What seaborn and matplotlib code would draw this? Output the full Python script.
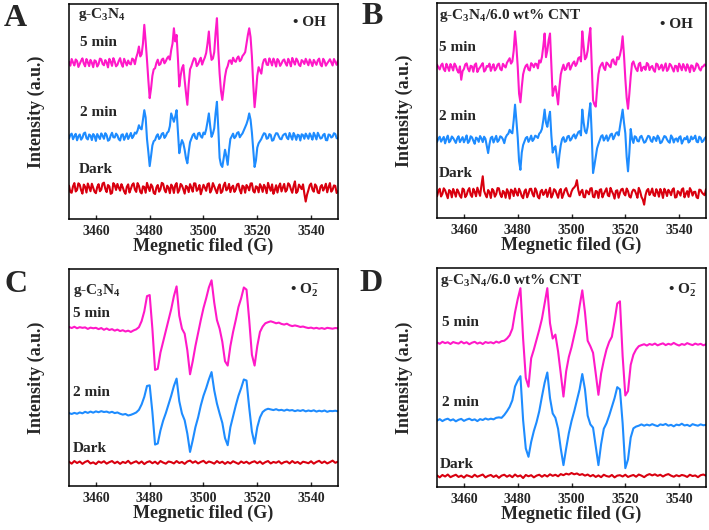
import numpy as np
import pandas as pd
import matplotlib
matplotlib.use('Agg')
import matplotlib.pyplot as plt
import seaborn as sns

# magnetic field sweep (G)
field = [3450, 3451, 3452, 3453, 3454, 3455, 3456, 3457, 3458, 3459,
         3460, 3461, 3462, 3463, 3464, 3465, 3466, 3467, 3468, 3469,
         3470, 3471, 3472, 3473, 3474, 3475, 3476, 3477, 3478, 3479,
         3480, 3481, 3482, 3483, 3484, 3485, 3486, 3487, 3488, 3489,
         3490, 3491, 3492, 3493, 3494, 3495, 3496, 3497, 3498, 3499,
         3500, 3501, 3502, 3503, 3504, 3505, 3506, 3507, 3508, 3509,
         3510, 3511, 3512, 3513, 3514, 3515, 3516, 3517, 3518, 3519,
         3520, 3521, 3522, 3523, 3524, 3525, 3526, 3527, 3528, 3529,
         3530, 3531, 3532, 3533, 3534, 3535, 3536, 3537, 3538, 3539,
         3540, 3541, 3542, 3543, 3544, 3545, 3546, 3547, 3548, 3549,
         3550]
# extra half-gauss samples for the noisy DMPO-OH spectra (A, B)
field_half = [3450.5, 3451.5, 3452.5, 3453.5, 3454.5, 3455.5, 3456.5, 3457.5, 3458.5, 3459.5,
              3460.5, 3461.5, 3462.5, 3463.5, 3464.5, 3465.5, 3466.5, 3467.5, 3468.5, 3469.5,
              3470.5, 3471.5, 3472.5, 3473.5, 3474.5, 3475.5, 3476.5, 3477.5, 3478.5, 3479.5,
              3480.5, 3481.5, 3482.5, 3483.5, 3484.5, 3485.5, 3486.5, 3487.5, 3488.5, 3489.5,
              3490.5, 3491.5, 3492.5, 3493.5, 3494.5, 3495.5, 3496.5, 3497.5, 3498.5, 3499.5,
              3500.5, 3501.5, 3502.5, 3503.5, 3504.5, 3505.5, 3506.5, 3507.5, 3508.5, 3509.5,
              3510.5, 3511.5, 3512.5, 3513.5, 3514.5, 3515.5, 3516.5, 3517.5, 3518.5, 3519.5,
              3520.5, 3521.5, 3522.5, 3523.5, 3524.5, 3525.5, 3526.5, 3527.5, 3528.5, 3529.5,
              3530.5, 3531.5, 3532.5, 3533.5, 3534.5, 3535.5, 3536.5, 3537.5, 3538.5, 3539.5,
              3540.5, 3541.5, 3542.5, 3543.5, 3544.5, 3545.5, 3546.5, 3547.5, 3548.5, 3549.5]

# ---- A: g-C3N4, DMPO-OH ----
a_5min = [0.5, 1.8, -1.2, 0.9, -0.4, 2.1, -1.6, 0.3, 1.4, -2.0,
          0.8, -0.6, 1.7, -1.1, 0.2, 1.9, -1.4, 0.6, -0.9, 2.2,
          -1.8, 0.4, 1.1, -0.7, 1.5, 2.5, 7.6, 4.0, 17.7, 1.4,
          -16.4, -6.0, -2.5, 1.5, -0.5, 2.0, 0.8, 3.0, 6.0, 16.1,
          13.0, -11.0, -2.5, -8.0, -19.5, -3.0, 0.5, 1.8, -0.6, 2.4,
          1.0, 4.6, 14.6, 1.4, 5.0, 20.8, -5.0, -17.2, -6.4, -1.5,
          1.2, 2.4, 0.5, 3.0, 1.5, 4.0, 9.0, 16.1, 3.0, -20.6,
          -6.0, -3.5, -0.5, 1.8, -1.0, 0.6, 2.0, -1.7, 0.9, -0.3,
          1.6, -1.3, 0.4, 2.3, -0.8, 1.0, -1.5, 0.7, 1.9, -1.1,
          0.2, 1.4, -0.9, 2.0, -1.6, 0.8, -0.2, 1.7, -1.2, 0.5,
          1.1]
a_5min_half = [-1.3, 0.2, 1.6, -1.9, 1.0, -0.3, 1.8, -1.5, 0.1, 1.2,
               -1.7, 2.0, -0.5, 1.3, -2.1, 0.6, 2.2, -1.6, 0.9, -0.4,
               1.9, -1.2, -0.3, 2.0, -0.6, 4.5, 3.0, 9.0, 10.0, -8.0,
               -12.0, -3.0, 0.0, -1.0, 1.5, -0.2, 2.2, 1.5, 9.0, 10.0,
               2.0, -6.0, -1.0, -14.0, -10.0, -1.5, 2.2, -1.5, 1.0, -0.8,
               2.5, 9.0, 6.0, 2.0, 14.0, 6.0, -13.0, -12.0, -3.0, 1.0,
               -0.5, 1.0, 2.2, 0.8, 3.2, 5.0, 13.0, 12.0, -10.0, -14.0,
               -2.0, -5.0, 1.5, -0.8, 2.1, -1.2, 0.5, 1.8, -1.4, 1.1,
               -0.2, 1.9, -1.6, 0.6, 2.0, -0.9, 1.3, -0.5, 0.4, 1.6,
               -1.5, 0.3, 1.2, -0.8, 1.9, -1.3, 0.7, 0.2, 1.8, -0.9]
a_2min = [-0.8, 1.5, 0.3, -1.6, 1.1, -0.4, 2.0, -1.2, 0.6, 1.3,
          -1.9, 0.2, 1.6, -0.9, 0.8, -1.4, 1.9, -0.3, 0.7, -1.7,
          1.2, 0.1, -1.0, 1.8, 0.4, 1.5, 5.4, 3.5, 12.4, -1.0,
          -13.6, -4.0, -1.5, 1.2, -0.3, 1.8, 0.4, 2.5, 10.9, 7.0,
          12.4, -7.6, -1.5, -6.0, -12.3, -2.5, 0.8, -0.5, 1.6, 0.2,
          2.0, 3.5, 10.9, 0.0, 4.0, 16.3, -9.8, -14.0, -6.0, -13.0,
          -1.0, 1.5, 0.2, 2.2, 0.8, 3.0, 6.0, 10.9, 2.0, -14.0,
          -5.0, -2.0, 0.5, 1.4, -0.6, 0.9, -1.5, 1.7, 0.2, -1.1,
          1.2, -0.4, 1.8, -1.3, 0.5, 1.0, -1.7, 0.8, 1.5, -0.9,
          0.3, 1.9, -1.2, 0.6, -0.5, 1.4, -1.6, 0.9, 0.1, 1.3,
          -0.8]
a_2min_half = [0.9, -1.1, 1.4, 0.2, -1.3, 1.6, -0.6, 1.1, -1.5, 0.4,
               1.3, -1.0, 0.5, 1.7, -1.8, 0.6, -0.2, 1.5, -1.1, 0.9,
               -1.4, 1.6, 0.3, -0.6, 2.0, 3.0, 4.0, 8.0, 9.0, -7.0,
               -9.0, -2.0, 0.3, -1.0, 1.4, -0.5, 1.9, 5.0, 9.0, 9.5,
               2.0, -4.0, -3.0, -10.0, -7.0, -0.8, 1.5, -1.0, 1.9, -0.4,
               1.2, 7.0, 5.0, 1.5, 11.0, 4.0, -13.0, -10.0, -9.0, -6.0,
               0.3, -0.6, 1.8, -0.2, 1.6, 4.5, 8.0, 8.0, -6.0, -11.0,
               -3.0, -1.0, 1.7, -0.9, 1.3, -1.8, 0.4, 1.6, -1.0, 0.6,
               1.5, -1.1, 0.2, 1.8, -1.4, 0.7, 1.2, -0.9, 0.4, 1.6,
               -1.3, 0.5, 1.9, -0.8, 0.9, -1.5, 1.1, -0.3, 1.7, -0.6]
a_dark = [1.2, -2.1, 2.4, -0.8, 1.6, -2.5, 0.7, 2.2, -1.4, 0.3,
          -2.3, 1.9, -0.6, 2.6, -1.8, 0.9, -2.2, 1.4, 2.0, -1.1,
          0.4, -2.6, 1.8, -0.3, 2.3, -1.7, 1.1, -2.4, 0.6, 2.5,
          -1.3, 0.8, -2.7, 1.5, -0.5, 2.1, -1.9, 0.2, 1.7, -2.2,
          2.4, -0.9, 1.3, -2.5, 0.5, 1.9, -1.6, 2.2, -0.4, -2.8,
          1.6, -1.2, 2.3, -0.7, 0.9, -2.3, 1.8, -1.5, 2.6, -0.2,
          -1.8, 1.2, -0.6, 2.1, -2.4, 0.7, 1.5, -1.0, 2.3, -2.0,
          0.5, 1.9, -1.7, 0.3, 2.5, -1.2, -2.6, 1.4, 0.8, -1.5,
          2.0, -0.8, 1.6, -2.1, 3.2, -1.4, 0.6, 1.8, -6.2, -0.9,
          2.2, -1.6, 0.9, -2.3, 1.5, 0.2, -1.9, 2.4, -0.7, 1.1,
          -1.4]
a_dark_half = [-1.8, 0.9, -1.5, 2.3, -0.9, 1.7, -2.0, 0.4, 2.1, -1.6,
               0.6, -1.4, 2.2, -0.3, 1.5, -2.6, 2.4, -0.8, 0.3, 1.9,
               -1.5, 0.7, -2.0, 1.6, -0.6, 2.4, -1.7, 0.9, -2.1, 0.5,
               1.8, -2.2, 0.4, -1.6, 2.5, -0.7, 1.2, -2.3, 0.6, 1.4,
               -2.1, 2.0, -0.5, 1.1, -1.8, 0.3, 2.3, -1.2, 1.5, -0.6,
               0.3, 1.9, -2.0, 2.4, -0.8, 0.5, -2.2, 1.3, -1.0, 2.0,
               0.4, -1.7, 1.8, -0.9, 1.2, -2.1, 0.5, 2.2, -1.3, 0.9,
               -1.9, 0.7, 1.6, -2.3, 0.4, 1.8, -0.9, -2.0, 2.2, 0.3,
               -1.6, 2.3, -0.5, 1.0, -2.2, 1.7, -0.4, -2.5, -3.0, 1.4,
               -0.6, 1.8, -2.0, 0.7, -1.1, 2.1, 0.5, -1.6, 1.3, -2.2]

# ---- B: g-C3N4/6.0 wt% CNT, DMPO-OH ----
b_5min = [1.5, -0.7, 2.0, -1.5, 0.4, 1.8, -1.2, 0.9, -2.2, -5.5,
          -0.5, 2.1, -1.6, 0.7, 1.4, -1.9, 0.3, 2.2, -1.0, 0.6,
          -1.4, 1.7, -0.3, 2.0, -1.1, 1.0, 2.4, 4.5, 3.0, 17.0,
          0.5, -16.0, -3.0, 1.0, -0.8, 2.2, 0.3, 1.8, 3.5, 5.0,
          16.0, 8.0, 16.0, -13.0, -8.5, -17.0, -3.0, 1.5, -0.5, 2.3,
          0.8, 3.0, 2.0, 5.0, 17.0, 4.0, 8.0, 18.6, -15.0, -18.0,
          -3.0, 1.5, 0.0, 2.5, 1.0, 3.5, 2.0, 5.0, 6.0, 14.7,
          -5.0, -19.0, -4.0, 3.0, -0.5, 1.8, -1.4, 0.6, 2.3, -1.0,
          0.9, -1.8, 1.6, 0.2, -1.3, 2.1, -0.6, 1.2, -1.7, 0.8,
          2.0, -1.1, 0.4, 1.7, -2.0, 0.9, -0.3, 1.5, -1.2, 0.7,
          1.0]
b_5min_half = [0.3, 1.2, -0.6, 1.9, -1.4, 0.5, 2.0, -1.1, 0.7, -1.5,
               1.6, -0.4, 1.0, -1.8, 2.1, -0.6, 1.3, -1.7, 0.9, 2.0,
               0.4, -1.2, 1.5, -0.5, 1.9, 0.2, 3.5, 2.0, 8.0, 10.0,
               -12.0, -9.0, -0.5, 1.6, -1.2, 1.5, 2.0, -0.2, 2.5, 10.0,
               5.0, 13.0, 2.0, -10.0, -12.0, -9.0, -0.5, -1.0, 1.8, -0.8,
               2.2, 0.9, 4.5, 3.0, 10.0, 5.0, 14.0, 2.0, -17.0, -10.0,
               0.2, 2.4, -1.0, 1.9, 0.3, 4.0, 1.5, 4.0, 9.0, 6.0,
               -14.0, -12.0, 2.0, 1.0, -1.5, 2.4, 0.1, -0.9, 1.7, 0.4,
               -1.0, 2.0, -0.7, 1.5, 0.4, -1.4, 1.9, -0.2, 1.0, -1.6,
               0.6, 1.8, -1.3, 0.3, 1.2, -1.5, 2.1, -0.4, 0.5, 1.6]
b_2min = [-1.0, 1.4, 0.2, -1.7, 1.9, -0.4, 0.8, -1.5, 1.6, 0.1,
          -1.2, 2.0, -0.7, 1.1, -1.9, 0.5, 1.7, -1.1, 0.4, -6.2,
          0.9, -1.3, 1.8, -0.2, 1.2, -1.6, 2.2, 4.6, 3.0, 16.3,
          1.0, -14.0, -2.5, 0.8, -1.0, 1.9, 0.3, 1.5, 2.8, 5.0,
          14.0, 6.0, 13.0, -6.0, -3.0, -13.0, -2.5, 1.2, -0.6, 1.8,
          0.4, 2.5, 2.0, 4.0, 14.0, 4.0, 6.0, 17.0, -15.5, -8.0,
          -2.0, 1.6, -0.4, 2.0, 0.8, 2.8, 1.5, 3.5, 6.0, 14.0,
          3.0, -14.7, 5.0, -1.5, 1.2, -0.8, 1.8, -1.4, 0.5, 1.5,
          -1.0, 0.7, 1.9, -1.6, 0.3, 1.4, -0.9, 2.0, -1.3, 0.6,
          1.1, -1.8, 0.8, 1.6, -0.7, 0.2, 1.9, -1.2, 0.9, -0.5,
          1.3]
b_2min_half = [0.5, -0.9, 1.3, 0.4, -1.2, 1.5, -0.3, 0.6, -1.1, 1.2,
               0.3, -1.5, 1.6, -0.5, 1.0, -1.0, 0.6, 1.4, -3.0, -2.0,
               1.4, 0.3, -1.0, 1.6, 0.2, 1.0, 2.8, 3.5, 9.0, 9.0,
               -10.0, -6.0, -0.8, 1.3, 0.2, -0.6, 1.9, 0.8, 3.5, 9.0,
               8.0, 10.0, 2.0, -4.0, -8.0, -7.0, 0.3, -1.0, 1.5, -0.4,
               1.8, 0.6, 3.5, 2.0, 8.0, 3.0, 12.0, 3.0, -12.0, -4.0,
               -0.2, 2.1, 0.7, -0.5, 2.4, 0.2, 3.0, 2.0, 10.0, 8.0,
               -8.0, -6.0, 0.5, 1.6, -0.6, 1.3, 0.2, -1.0, 1.8, -0.5,
               1.3, -0.6, 0.9, -1.2, 1.7, 0.1, -1.4, 1.0, 0.3, -0.9,
               1.6, -0.4, 0.2, -1.3, 1.5, 0.8, -0.9, 1.4, -1.1, 0.6]
b_dark = [-1.5, 2.0, -0.4, 1.3, -2.4, 0.8, 1.9, -1.7, 0.5, -2.2,
          1.6, -0.9, 2.3, -1.8, 0.6, 2.5, -1.3, 7.8, -0.7, 1.4,
          -2.3, 1.1, -0.5, 2.2, -1.9, 0.3, 1.8, -2.6, 1.0, 2.1,
          -1.2, 0.6, -2.4, 1.7, -0.3, 2.0, -1.6, 0.9, -2.5, 1.5,
          0.2, -1.8, 2.4, -0.8, 1.2, -2.2, 1.9, -0.6, 2.3, -1.4,
          0.7, 2.6, 6.0, -1.0, 1.5, -2.0, 0.4, 2.1, -1.7, 1.0,
          -2.3, 1.8, -0.4, 2.2, -1.5, 0.8, -2.6, 1.3, 0.1, 2.0,
          -1.1, 0.9, -2.1, 1.6, -0.3, 2.4, -1.8, -5.4, 1.2, -0.9,
          2.1, -1.4, 0.5, 1.9, -2.3, 0.7, 1.5, -1.0, 2.2, -1.9,
          0.3, 1.7, -2.0, 0.9, 2.3, -1.2, 0.6, -2.4, 1.4, -0.5,
          1.8]
b_dark_half = [0.9, -1.6, 2.2, -0.5, 1.4, -2.0, 0.3, 1.7, -1.3, 2.1,
               -1.9, 1.2, -0.8, 2.0, -1.5, 0.6, 3.5, 1.0, -2.0, 0.4,
               1.9, -1.7, 2.3, -0.6, 1.0, -2.2, 0.5, 1.6, -1.4, 0.2,
               2.0, -1.5, 0.8, -2.0, 1.9, -0.4, 2.2, -1.8, 0.7, -0.9,
               1.6, 0.4, -2.1, 1.8, -0.5, 0.9, -2.3, 1.5, 0.2, -1.6,
               2.0, 3.5, 1.5, 0.6, -1.8, 1.2, -0.6, 2.3, -2.0, 0.7,
               1.5, -2.0, 0.9, -1.1, 2.4, -0.5, 1.0, -2.2, 1.7, -0.3,
               2.1, -1.6, 0.5, 1.3, -2.2, 0.8, -3.0, -1.0, 1.9, 0.3,
               -0.9, 1.8, -1.7, 0.4, 2.0, -1.4, 0.6, 1.5, -2.1, 0.9,
               -1.2, 2.2, -0.3, -1.8, 1.1, 0.5, -2.0, 1.6, 0.2, -1.0]

# ---- C: g-C3N4, DMPO-O2- ----
c_5min = [0.8, 0.3, 0.9, 0.2, 0.7, 0.4, 0.6, -0.1, 0.5, 0.2,
          0.4, -0.2, 0.3, -0.5, 0.1, -0.6, -0.2, -0.9, -0.4, -1.1,
          -0.7, -1.3, -0.9, -1.5, -0.8, -0.3, 0.7, 3.5, 8.0, 15.0,
          15.5, 0.0, -19.0, -18.5, -11.0, -6.0, -1.0, 4.0, 9.0, 15.0,
          19.5, 6.0, 0.0, -2.3, -10.0, -21.0, -15.0, -8.0, -2.0, 4.0,
          9.5, 14.0, 19.0, 22.3, 12.0, 4.0, 0.0, -6.0, -15.0, -17.0,
          -8.0, -1.5, 4.0, 10.0, 14.0, 19.0, 18.0, 4.0, -12.0, -17.0,
          -8.0, -1.5, 1.0, 2.5, 3.0, 3.4, 3.0, 2.5, 2.8, 2.2,
          1.9, 2.3, 1.6, 1.2, 1.5, 1.2, 0.8, 1.0, 0.6, 0.3,
          0.5, 0.1, 0.4, 0.0, 0.3, -0.1, 0.4, 0.2, 0.0, 0.3,
          0.2]
c_2min = [-0.5, -0.9, -0.4, -0.8, -0.2, -0.6, 0.1, -0.4, 0.2, -0.3,
          0.3, -0.1, 0.4, 0.0, 0.2, -0.3, 0.1, -0.5, -0.2, -0.8,
          -1.2, -0.9, -1.6, -1.3, -0.8, -0.2, 1.0, 3.5, 7.0, 12.0,
          12.3, 0.0, -15.0, -14.5, -8.5, -4.0, -0.5, 3.5, 7.5, 12.0,
          15.4, 5.0, -0.7, -3.8, -10.0, -18.4, -13.0, -7.0, -2.5, 3.0,
          7.5, 11.0, 15.0, 18.4, 10.0, 3.9, -0.7, -5.0, -12.0, -15.3,
          -7.0, -2.0, 3.0, 7.5, 11.0, 15.0, 14.5, 2.0, -9.0, -14.6,
          -7.0, -2.5, 0.0, 1.0, 1.5, 1.2, 0.9, 1.3, 0.8, 1.0,
          0.6, 1.1, 0.7, 0.9, 0.4, 0.8, 0.5, 0.9, 0.3, 0.7,
          0.4, 0.8, 0.2, 0.6, 0.3, 0.7, 0.1, 0.5, 0.4, 0.6,
          0.3]
c_dark = [0.4, -0.5, 0.7, -0.2, 0.5, -0.6, 0.3, 0.8, -0.4, 0.1,
          -0.7, 0.5, -0.1, 0.6, -0.5, 0.2, 0.7, -0.3, 0.4, -0.6,
          0.3, -0.2, 0.8, -0.5, 0.1, 0.6, -0.4, 0.5, -0.7, 0.2,
          0.6, -0.3, 0.4, -0.6, 0.7, 0.0, -0.5, 0.5, 0.2, -0.4,
          0.7, -0.2, 0.3, -0.6, 0.5, 0.9, -0.1, 0.6, -0.4, 0.3,
          0.8, -0.3, 0.5, 0.1, -0.5, 0.7, -0.2, 0.4, -0.6, 0.3,
          -0.4, 0.6, 0.0, -0.6, 0.5, -0.2, 0.4, -0.5, 0.2, 0.6,
          -0.3, 0.5, -0.6, 0.2, 0.7, -0.4, 0.3, -0.1, 0.6, -0.5,
          0.2, 0.5, -0.4, 0.7, -0.2, 0.3, -0.6, 0.4, 0.1, -0.3,
          0.6, -0.5, 0.3, 0.8, -0.2, 0.5, -0.4, 0.2, 0.9, -0.1,
          0.4]

# ---- D: g-C3N4/6.0 wt% CNT, DMPO-O2- ----
d_5min = [0.2, -0.4, 0.5, -0.1, 0.3, -0.5, 0.4, 0.0, -0.3, 0.6,
          -0.2, 0.3, -0.6, 0.1, 0.5, -0.3, 0.2, -0.5, 0.4, 0.0,
          0.3, -0.2, 0.6, 0.1, 0.8, 1.0, 2.0, 3.5, 6.5, 14.0,
          20.0, 25.0, 2.0, -16.0, -20.0, -7.0, -3.0, 1.5, 6.0, 11.0,
          18.0, 25.0, 9.0, 2.0, 3.8, -3.9, -14.0, -24.5, -13.0, -6.4,
          -2.0, 3.5, 9.0, 16.8, 24.0, 14.0, 1.0, -1.5, -4.5, -14.0,
          -23.7, -14.0, -8.0, -3.0, 0.5, 2.8, 10.0, 18.0, 19.0, -6.0,
          -24.0, -22.0, -10.0, -5.4, -3.0, -1.5, -1.0, -0.6, -1.2, -0.5,
          -0.9, -0.3, -1.1, -0.6, -0.2, -1.0, -0.4, -0.8, 0.0, -0.7,
          -1.2, -0.5, -0.9, -0.1, -0.6, -1.0, -0.3, -0.8, -0.4, -1.1,
          -0.6]
d_2min = [-0.3, 0.4, -0.5, 0.2, 0.6, -0.2, 0.3, -0.6, 0.1, 0.5,
          -0.4, 0.2, 0.6, -0.1, 0.3, -0.5, 0.4, 0.0, 0.7, 0.2,
          0.6, 0.3, 1.0, 1.2, 1.0, 2.3, 4.0, 6.0, 9.0, 15.3,
          18.0, 20.0, 0.0, -13.0, -16.8, -10.0, -5.0, -1.0, 4.0, 10.7,
          17.0, 21.7, 10.0, 3.0, 1.0, -4.0, -13.0, -20.6, -13.0, -6.0,
          -0.5, 4.0, 9.0, 14.0, 21.0, 14.0, 2.0, -2.0, -3.5, -12.0,
          -20.6, -11.0, -4.0, -1.5, 2.0, 6.0, 10.0, 15.0, 14.0, -1.5,
          -22.0, -18.0, -8.0, -3.8, -3.0, -2.6, -2.0, -2.6, -2.1, -2.5,
          -1.9, -2.4, -2.8, -2.0, -2.3, -1.8, -2.6, -2.2, -2.9, -2.1,
          -2.4, -1.7, -2.5, -2.2, -2.8, -1.9, -2.3, -2.6, -2.0, -2.4,
          -2.2]
d_dark = [0.3, -0.6, 0.5, -0.2, 0.7, -0.5, 0.1, 0.6, -0.4, 0.2,
          -0.7, 0.4, 0.0, -0.5, 0.6, -0.3, 0.2, 0.7, -0.6, 0.1,
          0.5, -0.4, 0.3, -0.8, 0.2, 0.6, -0.3, 0.4, -0.5, 0.7,
          -0.2, 0.3, -0.9, 0.5, -0.1, 0.4, -0.6, 0.2, 0.6, -0.3,
          0.5, -0.2, 0.8, 0.1, 0.6, -0.1, 0.9, 0.4, 1.1, 0.7,
          1.4, 0.8, 1.2, 0.5, 0.9, 0.2, 0.7, -0.1, 0.5, -0.4,
          0.3, -0.5, 0.6, 0.0, -0.3, 0.5, -0.6, 0.2, 0.4, -0.2,
          0.6, -0.4, 0.1, 0.5, -0.3, 0.7, 0.2, -0.5, 0.4, 0.9,
          0.3, 0.8, 0.1, 0.6, -0.2, 0.5, 0.9, 0.2, -0.3, 0.4,
          -0.1, 0.5, 0.2, -0.4, 0.6, 0.0, 0.3, -0.5, 0.4, 0.7,
          0.2]

# vertical stacking of the three traces in each panel (5 min, 2 min, dark)
offsets_a = [72.6, 38.2, 14.3]
offsets_b = [69.8, 36.4, 11.6]
offsets_c = [72.5, 34.1, 10.8]
offsets_d = [65.8, 30.6, 5.0]

series = ['5 min', '2 min', 'Dark']
colors = {'5 min': '#FF19C8', '2 min': '#1E8CFF', 'Dark': '#D9000F'}

sns.set_style('ticks')
plt.rcParams['font.family'] = ['Liberation Serif', 'DejaVu Serif']
plt.rcParams['font.weight'] = 'bold'
plt.rcParams['axes.labelweight'] = 'bold'
plt.rcParams['mathtext.fontset'] = 'custom'
plt.rcParams['mathtext.rm'] = 'Liberation Serif:bold'
plt.rcParams['mathtext.it'] = 'Liberation Serif:bold'
plt.rcParams['mathtext.bf'] = 'Liberation Serif:bold'
plt.rcParams['mathtext.default'] = 'rm'


def make_df(curves, offsets, halves=None):
    frames = []
    for i, (name, vals, off) in enumerate(zip(series, curves, offsets)):
        x = list(field)
        y = list(vals)
        if halves is not None:
            x += field_half
            y += halves[i]
        frames.append(pd.DataFrame({'field': x,
                                    'intensity': np.array(y) + off,
                                    'series': name}))
    return pd.concat(frames, ignore_index=True)


panels = [
    # letter, curves, half-step samples, offsets, axes rect, sample text, radical text, text positions
    ('A', [a_5min, a_2min, a_dark], [a_5min_half, a_2min_half, a_dark_half], offsets_a,
     [0.0973, 0.5868, 0.3794, 0.4057], r'g-C$_3$N$_4$', '• OH',
     [(0.033, 0.949), (0.041, 0.823), (0.041, 0.493), (0.037, 0.228), (0.833, 0.912)]),
    ('B', [b_5min, b_2min, b_dark], [b_5min_half, b_2min_half, b_dark_half], offsets_b,
     [0.6164, 0.5887, 0.3794, 0.4057], r'g-C$_3$N$_4$/6.0 wt% CNT', '• OH',
     [(0.006, 0.944), (0.006, 0.795), (0.006, 0.470), (0.006, 0.209), (0.829, 0.898)]),
    ('C', [c_5min, c_2min, c_dark], None, offsets_c,
     [0.0973, 0.0830, 0.3794, 0.4094], r'g-C$_3$N$_4$', r'• O$_2^{-}$',
     [(0.015, 0.899), (0.015, 0.797), (0.015, 0.429), (0.015, 0.171), (0.822, 0.903)]),
    ('D', [d_5min, d_2min, d_dark], None, offsets_d,
     [0.6164, 0.0811, 0.3794, 0.4132], r'g-C$_3$N$_4$/6.0 wt% CNT', r'• O$_2^{-}$',
     [(0.011, 0.945), (0.019, 0.753), (0.019, 0.384), (0.011, 0.105), (0.859, 0.900)]),
]
letter_pos = {'A': (0.021, 0.966), 'B': (0.525, 0.968),
              'C': (0.023, 0.464), 'D': (0.523, 0.466)}

fig = plt.figure(figsize=(7.09, 5.30), dpi=100)

for letter, curves, halves, offs, rect, sample, radical, pos in panels:
    ax = fig.add_axes(rect)
    df = make_df(curves, offs, halves)
    sns.lineplot(data=df, x='field', y='intensity', hue='series',
                 palette=colors, estimator=None, legend=False,
                 linewidth=1.5, ax=ax)
    ax.set_xlim(3450, 3550)
    ax.set_ylim(0, 100)
    ax.set_xticks([3460, 3480, 3500, 3520, 3540])
    ax.set_yticks([])
    ax.tick_params(axis='x', direction='in', length=3, width=1, labelsize=10, pad=4)
    for lab in ax.get_xticklabels():
        lab.set_fontweight('bold')
    for sp in ax.spines.values():
        sp.set_linewidth(1.1)
        sp.set_color('black')
    ax.set_xlabel('Megnetic filed (G)', fontsize=13, fontweight='bold')
    ax.set_ylabel('Intensity (a.u.)', fontsize=13, fontweight='bold')
    ax.xaxis.set_label_coords(0.5, -0.085)
    ax.yaxis.set_label_coords(-0.09, 0.5)

    ax.text(pos[0][0], pos[0][1], sample, transform=ax.transAxes,
            fontsize=11, fontweight='bold', va='center', ha='left')
    for (px, py), name in zip(pos[1:4], series):
        ax.text(px, py, name, transform=ax.transAxes,
                fontsize=11, fontweight='bold', va='center', ha='left')
    ax.text(pos[4][0], pos[4][1], radical, transform=ax.transAxes,
            fontsize=11, fontweight='bold', va='center', ha='left')

    fig.text(letter_pos[letter][0], letter_pos[letter][1], letter,
             fontsize=23, fontweight='bold', ha='center', va='center')

fig.savefig('out.png', dpi=100)
